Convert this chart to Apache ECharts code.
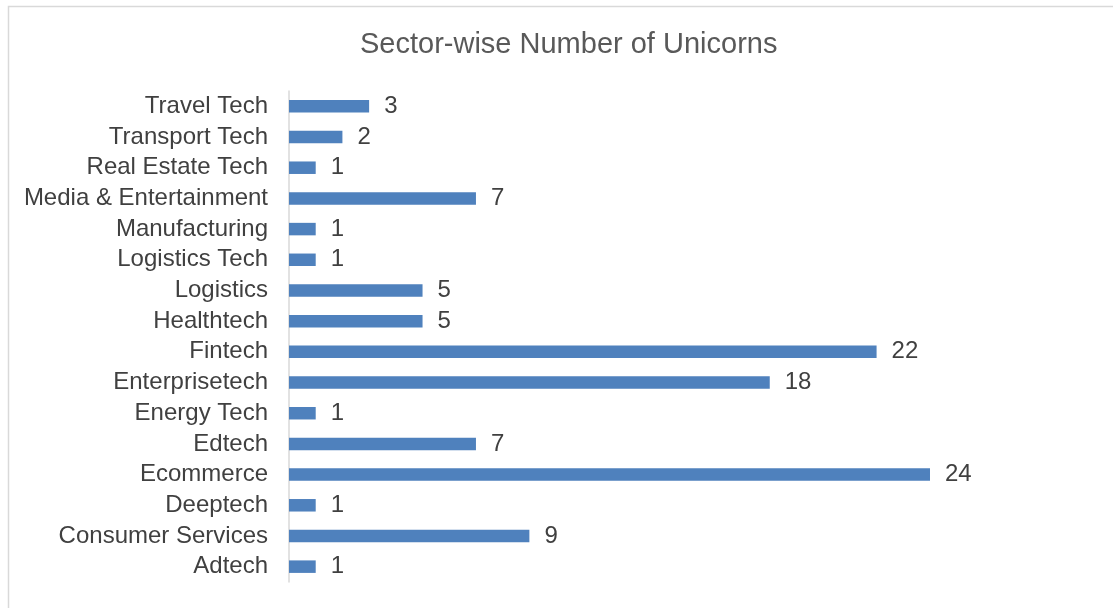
<!DOCTYPE html>
<html>
<head>
<meta charset="utf-8">
<script src="https://cdn.jsdelivr.net/npm/echarts@6/dist/echarts.min.js"></script>
<style>
html,body{margin:0;padding:0;background:#fff;}
#chart{width:1113px;height:608px;}
</style>
</head>
<body>
<div id="chart"></div>
<script>
const categories = ["Adtech","Consumer Services","Deeptech","Ecommerce","Edtech","Energy Tech","Enterprisetech","Fintech","Healthtech","Logistics","Logistics Tech","Manufacturing","Media & Entertainment","Real Estate Tech","Transport Tech","Travel Tech"];
const unicorns = [1,9,1,24,7,1,18,22,5,5,1,1,7,1,2,3];
const titleText = "Sector-wise Number of Unicorns";

const chart = echarts.init(document.getElementById('chart'));
chart.setOption({
  animation: false,
  backgroundColor: '#fff',
  graphic: [{
    type: 'rect', left: 6, top: 4, silent: true,
    shape: {x: 0, y: 0, width: 1200, height: 700},
    style: {fill: 'none', stroke: '#D9D9D9', lineWidth: 1.5}
  }],
  title: {
    text: titleText, left: 355, top: 25,
    textStyle: {fontFamily: 'Liberation Sans, Arial', fontSize: 29, fontWeight: 'normal', color: '#595959'}
  },
  grid: {left: 289, right: 183, top: 91, bottom: 26},
  xAxis: {
    type: 'value', min: 0, max: 24, show: false
  },
  yAxis: {
    type: 'category', data: categories,
    axisLine: {show: true, lineStyle: {color: '#D9D9D9', width: 1.5}},
    axisTick: {show: false},
    axisLabel: {interval: 0, fontFamily: 'Liberation Sans, Arial', fontSize: 24, color: '#404040', margin: 21}
  },
  series: [{
    type: 'bar', data: unicorns, barWidth: 12.5,
    itemStyle: {color: '#4F81BD'},
    label: {show: true, position: 'right', distance: 15,
      fontFamily: 'Liberation Sans, Arial', fontSize: 24, color: '#404040'}
  }]
});
</script>
</body>
</html>
